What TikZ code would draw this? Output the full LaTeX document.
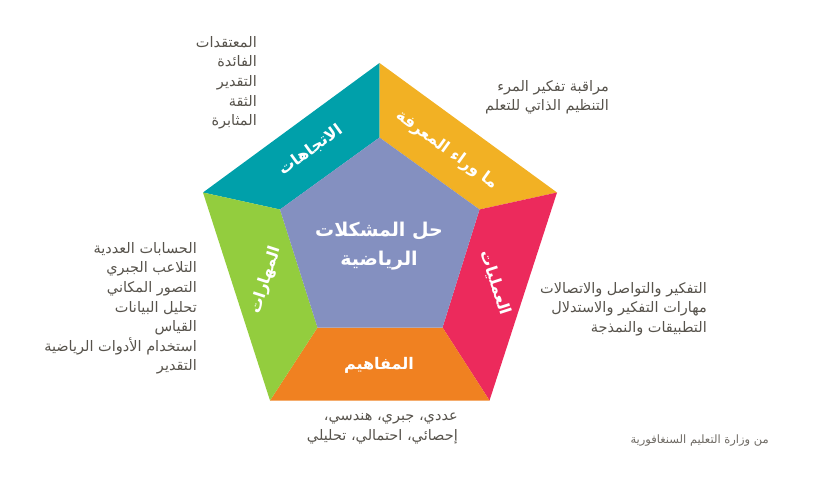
\documentclass[tikz,border=0pt]{standalone}
\usepackage{fontspec}
\TeXXeTstate=1
\newfontfamily\arabicfont[Script=Arabic]{DejaVu Sans}
\definecolor{cteal}{RGB}{0,160,170}
\definecolor{cyellow}{RGB}{242,177,36}
\definecolor{cpink}{RGB}{236,42,92}
\definecolor{corange}{RGB}{240,129,33}
\definecolor{cgreen}{RGB}{147,205,62}
\definecolor{cpurple}{RGB}{132,144,192}
\definecolor{ctext}{RGB}{87,83,76}
\definecolor{ccredit}{RGB}{110,106,100}
\tikzset{
  seglabel/.style={text=white,font=\arabicfont\bfseries\fontsize{16}{18}\selectfont,inner sep=0pt},
  sidetext/.style={text=ctext,font=\arabicfont\fontsize{14.5}{19.6}\selectfont,align=right,inner sep=0pt,anchor=east},
}
\begin{document}
\begin{tikzpicture}[x=1pt,y=-1pt]
\useasboundingbox (0,0) rectangle (821,500);
% outer
\coordinate (ot) at (379.5,63);
\coordinate (or) at (557,192.5);
\coordinate (obr) at (489.5,400.5);
\coordinate (obl) at (270,400.5);
\coordinate (ol) at (203,192.5);
% inner
\coordinate (it) at (379.5,137.5);
\coordinate (ir) at (479.5,209.5);
\coordinate (ibr) at (442.5,327.5);
\coordinate (ibl) at (317.5,327.5);
\coordinate (il) at (280,209.5);
\fill[cteal] (ol)--(ot)--(it)--(il)--cycle;
\fill[cyellow] (ot)--(or)--(ir)--(it)--cycle;
\fill[cpink] (or)--(obr)--(ibr)--(ir)--cycle;
\fill[corange] (obr)--(obl)--(ibl)--(ibr)--cycle;
\fill[cgreen] (obl)--(ol)--(il)--(ibl)--cycle;
\fill[cpurple] (it)--(ir)--(ibr)--(ibl)--(il)--cycle;
% segment labels
\node[seglabel,rotate=36] (att) at (311,150) {\beginR الاتجاهات\endR};
\node[seglabel,rotate=-36] (meta) at (447,150) {\beginR ما وراء المعرفة\endR};
\node[seglabel,rotate=-72] (proc) at (495,283) {\beginR العمليات\endR};
\node[seglabel,rotate=72] (skills) at (266,280) {\beginR المهارات\endR};
\node[seglabel] (conc) at (379,365) {\beginR المفاهيم\endR};
\node[seglabel,font=\arabicfont\bfseries\fontsize{19}{29}\selectfont,align=center] (center) at (379,246) {\beginR حل المشكلات\endR\\\beginR الرياضية\endR};
% side texts
\node[sidetext,anchor=north east] (tl) at (257,36) {\beginR المعتقدات\endR\\\beginR الفائدة\endR\\\beginR التقدير\endR\\\beginR الثقة\endR\\\beginR المثابرة\endR};
\node[sidetext,anchor=north east] (tr) at (609,80) {\beginR مراقبة تفكير المرء\endR\\\beginR التنظيم الذاتي للتعلم\endR};
\node[sidetext,anchor=north east] (rt) at (707,282) {\beginR التفكير والتواصل والاتصالات\endR\\\beginR مهارات التفكير والاستدلال\endR\\\beginR التطبيقات والنمذجة\endR};
\node[sidetext,anchor=north east] (lt) at (197,242) {\beginR الحسابات العددية\endR\\\beginR التلاعب الجبري\endR\\\beginR التصور المكاني\endR\\\beginR تحليل البيانات\endR\\\beginR القياس\endR\\\beginR استخدام الأدوات الرياضية\endR\\\beginR التقدير\endR};
\node[sidetext,anchor=north east] (bt) at (458,413) {\beginR عددي، جبري، هندسي،\endR\\\beginR إحصائي، احتمالي، تحليلي\endR};
\node[sidetext,anchor=east,text=ccredit,font=\arabicfont\fontsize{11.5}{13}\selectfont] (credit) at (769,441) {\beginR من وزارة التعليم السنغافورية\endR};
\end{tikzpicture}
\end{document}
